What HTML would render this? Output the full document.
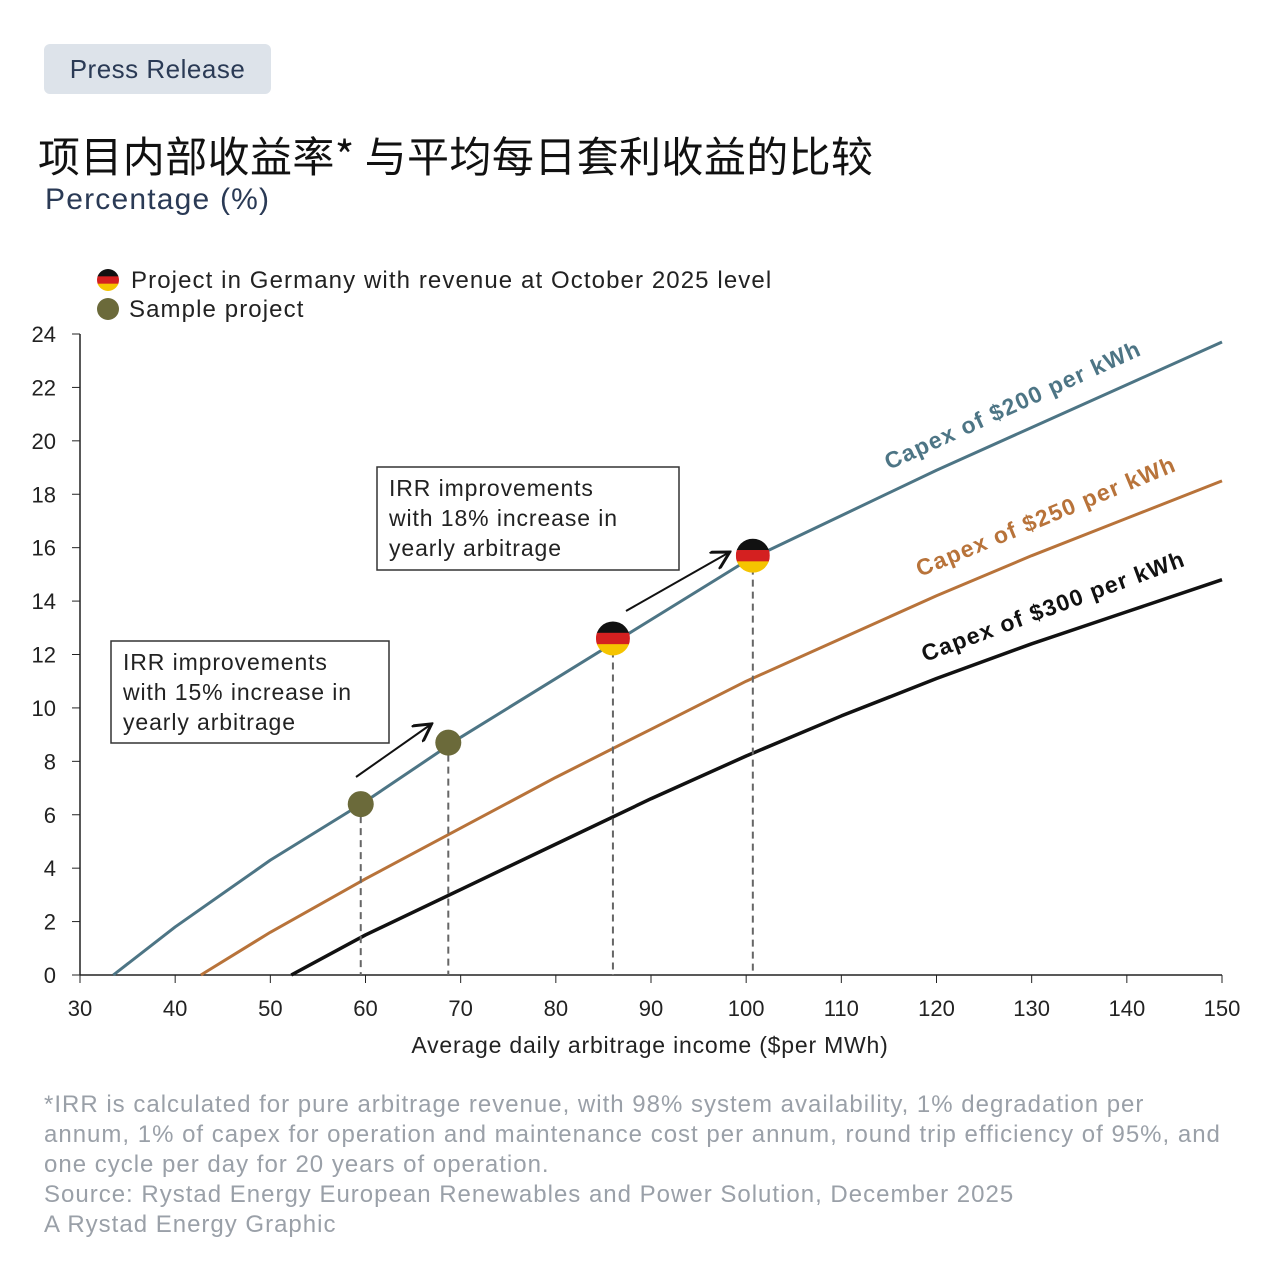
<!DOCTYPE html>
<html><head><meta charset="utf-8">
<style>
body{margin:0;width:1280px;height:1280px;background:#fff;overflow:hidden;font-family:"Liberation Sans","Noto Sans CJK SC",sans-serif;}
.abs{position:absolute;}
</style></head>
<body>
<div class="abs" style="left:44px;top:44px;width:227px;height:50px;background:#dde3ea;border-radius:6px;font-size:26px;color:#2a3a55;line-height:50px;text-align:center;letter-spacing:0.5px;">Press Release</div>
<div class="abs" style="left:38px;top:124px;font-size:42px;letter-spacing:0.4px;color:#111;font-family:'Noto Sans CJK SC',sans-serif;">项目内部收益率* 与平均每日套利收益的比较</div>
<div class="abs" style="left:45px;top:183px;font-size:30px;letter-spacing:1.2px;color:#2a3a55;">Percentage (%)</div>
<svg class="abs" style="left:0;top:0" width="1280" height="1280">
<g id="axes"></g><g id="lines"></g><g id="marks"></g>
</svg>
<div class="abs" style="left:44px;top:1090px;width:1230px;font-size:24px;letter-spacing:1px;line-height:30px;color:#9aa0a8;white-space:nowrap;">*IRR is calculated for pure arbitrage revenue, with 98% system availability, 1% degradation per<br>annum, 1% of capex for operation and maintenance cost per annum, round trip efficiency of 95%, and<br>one cycle per day for 20 years of operation.<br>Source: Rystad Energy European Renewables and Power Solution, December 2025<br>A Rystad Energy Graphic</div>
<script>
const xTicks=[30,40,50,60,70,80,90,100,110,120,130,140,150];
const yTicks=[0,2,4,6,8,10,12,14,16,18,20,22,24];
const blueX=[33.5,40,50,60,70,80,90,100,110,120,130,140,150];
const blueY=[0,1.8,4.3,6.5,8.9,11.1,13.3,15.5,17.2,18.9,20.5,22.1,23.7];
const orangeX=[42.7,50,60,70,80,90,100,110,120,130,140,150];
const orangeY=[0,1.6,3.6,5.5,7.4,9.2,11.0,12.6,14.2,15.7,17.1,18.5];
const blackX=[52.2,60,70,80,90,100,110,120,130,140,150];
const blackY=[0,1.5,3.2,4.9,6.6,8.2,9.7,11.1,12.4,13.6,14.8];
const sampleX=[59.5,68.7];
const sampleY=[6.4,8.7];
const germanyX=[86,100.7];
const germanyY=[12.6,15.7];
const NS='http://www.w3.org/2000/svg';
const X=v=>80+(v-30)*(1142/120);
const Y=v=>975-v*(641/24);
function mk(t,a,p){const e=document.createElementNS(NS,t);for(const k in a)e.setAttribute(k,a[k]);(p||document.getElementById('axes')).appendChild(e);return e;}
let e=mk('line',{x1:80,y1:334,x2:80,y2:975,stroke:'#222','stroke-width':1.5});

e=mk('line',{x1:80,y1:975,x2:1222,y2:975,stroke:'#222','stroke-width':1.5});

yTicks.forEach(t=>{mk('line',{x1:72,x2:80,y1:Y(t),y2:Y(t),stroke:'#222'});
const tx=mk('text',{x:56,y:Y(t)+8,'text-anchor':'end','font-size':22,fill:'#222'});tx.textContent=t;
});
xTicks.forEach(t=>{mk('line',{x1:X(t),x2:X(t),y1:975,y2:983,stroke:'#222'});
const tx=mk('text',{x:X(t),y:1016,'text-anchor':'middle','font-size':22,fill:'#222'});tx.textContent=t;
});
e=mk('text',{x:650,y:1053,'text-anchor':'middle','font-size':23,'letter-spacing':0.8,fill:'#222'});e.textContent='Average daily arbitrage income ($per MWh)';

const L=document.getElementById('lines');
function line(xs,ys,c,w,name){const d=xs.map((x,i)=>(i?'L':'M')+X(x)+','+Y(ys[i])).join(' ');
const p=mk('path',{d:d,stroke:c,'stroke-width':w,fill:'none','stroke-linejoin':'round'},L);}
line(blueX,blueY,'#4d7585',3,'line-capex-200');
line(orangeX,orangeY,'#b8733a',3,'line-capex-250');
line(blackX,blackY,'#111',3.5,'line-capex-300');
function lab(x,y,ang,c,t,name){const tx=mk('text',{x:x,y:y,'font-size':23,'letter-spacing':1.3,'font-weight':'bold',fill:c,transform:`rotate(${-ang} ${x} ${y})`},L);tx.textContent=t;}
lab(889,470,24.5,'#4d7585','Capex of $200 per kWh','label-capex-200');
lab(920,577,22.5,'#b8733a','Capex of $250 per kWh','label-capex-250');
lab(925,662,20.3,'#111','Capex of $300 per kWh','label-capex-300');
const M=document.getElementById('marks');
function drop(x,y){mk('line',{x1:X(x),x2:X(x),y1:Y(y),y2:975,stroke:'#666','stroke-width':2,'stroke-dasharray':'7,5'},M);}
sampleX.forEach((x,i)=>{drop(x,sampleY[i]);const c=mk('circle',{cx:X(x),cy:Y(sampleY[i]),r:13,fill:'#6b6a3a'},M);
});
function flag(cx,cy,r,p,name){const id='c'+Math.round(cx)+Math.round(cy);const g=mk('g',{},p);
const cp=mk('clipPath',{id:id},g);mk('circle',{cx:cx,cy:cy,r:r},cp);
[['#111',0],['#d42020',1],['#f5c400',2]].forEach(([f,k])=>mk('rect',{x:cx-r,y:cy-r+k*2*r/3,width:2*r,height:2*r/3+0.5,fill:f,'clip-path':`url(#${id})`},g));
}
germanyX.forEach((x,i)=>{drop(x,germanyY[i]);flag(X(x),Y(germanyY[i]),17,M,'germany-project-point');});
mk('defs',{},M).innerHTML='<marker id="ar" markerWidth="10" markerHeight="10" refX="8" refY="5" orient="auto"><path d="M0,0 L9,5 L0,10" fill="none" stroke="#111" stroke-width="1.5"/></marker>';
e=mk('line',{x1:356,y1:777,x2:430,y2:725,stroke:'#111','stroke-width':2,'marker-end':'url(#ar)'},M);
e=mk('line',{x1:626,y1:611,x2:728,y2:553,stroke:'#111','stroke-width':2,'marker-end':'url(#ar)'},M);
function box(x,y,w,h,lines,name){const g=mk('g',{},M);mk('rect',{x:x,y:y,width:w,height:h,fill:'#fff',stroke:'#333','stroke-width':1.5},g);
lines.forEach((t,i)=>{const tx=mk('text',{x:x+12,y:y+29+i*30,'font-size':23,'letter-spacing':0.9,fill:'#222'},g);tx.textContent=t;});
}
box(111,641,278,102,['IRR improvements','with 15% increase in','yearly arbitrage'],'annotation-15pct');
box(377,467,302,103,['IRR improvements','with 18% increase in','yearly arbitrage'],'annotation-18pct');
flag(108,280,11,M,'legend-germany-icon');
let t=mk('text',{x:131,y:288,'font-size':24,'letter-spacing':1.1,fill:'#222'},M);t.textContent='Project in Germany with revenue at October 2025 level';

e=mk('circle',{cx:108,cy:309,r:11,fill:'#6b6a3a'},M);
t=mk('text',{x:129,y:317,'font-size':24,'letter-spacing':1.1,fill:'#222'},M);t.textContent='Sample project';

</script>
</body></html>
